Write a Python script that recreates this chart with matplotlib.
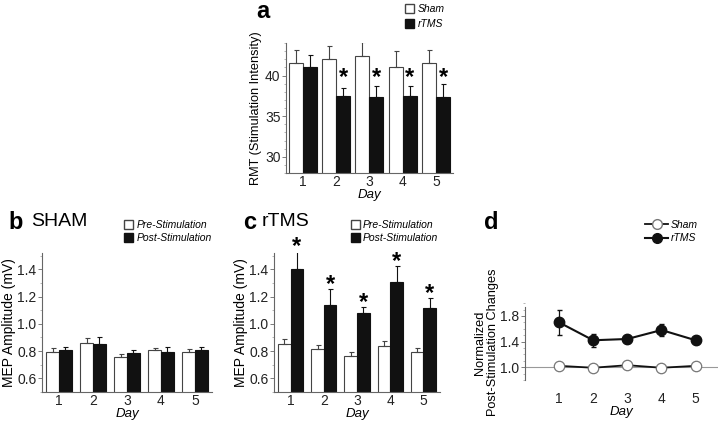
import matplotlib
matplotlib.use("Agg")
import matplotlib.pyplot as plt
from matplotlib.patches import Patch
from matplotlib.lines import Line2D
from matplotlib.ticker import MultipleLocator
import numpy as np

plt.rcParams['font.family'] = ['Liberation Sans', 'DejaVu Sans']

days = [1, 2, 3, 4, 5]

# a: resting motor threshold
rmt_sham = [41.5, 42.0, 42.4, 41.0, 41.5]
rmt_sham_err = [1.6, 1.6, 1.7, 2.0, 1.6]
rmt_rtms = [41.0, 37.5, 37.4, 37.5, 37.4]
rmt_rtms_err = [1.5, 1.0, 1.3, 1.2, 1.6]
rmt_sig = [False, True, True, True, True]

# b: MEP amplitude, sham group
sham_pre = [0.795, 0.858, 0.759, 0.807, 0.790]
sham_pre_err = [0.027, 0.040, 0.017, 0.019, 0.024]
sham_post = [0.807, 0.851, 0.785, 0.795, 0.810]
sham_post_err = [0.025, 0.054, 0.025, 0.035, 0.019]

# c: MEP amplitude, rTMS group
rtms_pre = [0.850, 0.812, 0.762, 0.836, 0.795]
rtms_pre_err = [0.036, 0.033, 0.028, 0.041, 0.031]
rtms_post = [1.40, 1.14, 1.08, 1.31, 1.115]
rtms_post_err = [0.135, 0.117, 0.041, 0.115, 0.072]
rtms_sig = [True, True, True, True, True]

# d: normalized post-stimulation changes
norm_sham = [1.02, 0.99, 1.03, 0.99, 1.02]
norm_rtms = [1.70, 1.42, 1.44, 1.58, 1.42]
norm_rtms_err = [0.20, 0.10, 0.06, 0.09, 0.06]

EDGE = '#444444'
DARK = '#111111'
SPINE = '#666666'


def style_axes(ax):
    for s in ['top', 'right']:
        ax.spines[s].set_visible(False)
    for s in ['left', 'bottom']:
        ax.spines[s].set_color(SPINE)
        ax.spines[s].set_linewidth(0.8)
    ax.tick_params(axis='x', length=0, labelsize=10, pad=1.5, colors='#222222')
    ax.tick_params(axis='y', which='major', length=3, width=0.6, color=SPINE,
                   labelsize=10, pad=1, labelcolor='#222222')
    ax.tick_params(axis='y', which='minor', length=1.5, width=0.5, color='#999999')


def bar_pair(ax, pre, pre_err, post, post_err, width=0.4):
    x = np.array(days)
    ax.bar(x - width / 2, pre, width, color='white', edgecolor=EDGE, linewidth=0.8)
    ax.bar(x + width / 2, post, width, color=DARK, edgecolor=DARK, linewidth=0.8)
    ax.errorbar(x - width / 2, pre, yerr=[np.zeros(5), pre_err], fmt='none',
                ecolor=EDGE, elinewidth=0.8, capsize=1.8, capthick=0.8)
    ax.errorbar(x + width / 2, post, yerr=[np.zeros(5), post_err], fmt='none',
                ecolor=DARK, elinewidth=0.8, capsize=1.8, capthick=0.8)
    ax.set_xticks(days)
    ax.set_xlim(0.5, 5.5)


fig = plt.figure(figsize=(7.2, 4.23), dpi=100)

# ---- a ----
ax = fig.add_axes([0.3972, 0.591, 0.2319, 0.3073])
bar_pair(ax, rmt_sham, rmt_sham_err, rmt_rtms, rmt_rtms_err, width=0.42)
ax.set_ylim(28, 44)
ax.set_yticks([30, 35, 40])
ax.yaxis.set_minor_locator(MultipleLocator(1))
style_axes(ax)
for d, sig in zip(days, rmt_sig):
    if sig:
        ax.text(d + 0.21, 39.8, '*', ha='center', va='center', fontsize=17, fontweight='bold')
ax.set_ylabel('RMT (Stimulation Intensity)', fontsize=9.2, labelpad=2)
ax.set_xlabel('Day', fontsize=9.5, style='italic', labelpad=0)
fig.text(0.356, 0.972, 'a', fontsize=17, fontweight='bold', va='center', ha='left')
fig.legend(handles=[Patch(facecolor='white', edgecolor=EDGE, label='Sham'),
                    Patch(facecolor=DARK, edgecolor=DARK, label='rTMS')],
           loc='upper left', bbox_to_anchor=(0.549, 1.012), frameon=False,
           handlelength=0.9, handleheight=0.9, handletextpad=0.35, labelspacing=0.45,
           prop={'size': 7.5, 'style': 'italic'})

# ---- b ----
ax = fig.add_axes([0.0583, 0.0733, 0.2361, 0.3286])
bar_pair(ax, sham_pre, sham_pre_err, sham_post, sham_post_err, width=0.38)
ax.set_ylim(0.5, 1.52)
ax.set_yticks([0.6, 0.8, 1.0, 1.2, 1.4])
ax.yaxis.set_minor_locator(MultipleLocator(0.1))
style_axes(ax)
ax.set_ylabel('MEP Amplitude (mV)', fontsize=10, labelpad=1)
ax.set_xlabel('Day', fontsize=9.5, style='italic', labelpad=0)
fig.text(0.012, 0.474, 'b', fontsize=17, fontweight='bold', va='center', ha='left')
fig.text(0.043, 0.476, 'SHAM', fontsize=14, va='center', ha='left')
fig.legend(handles=[Patch(facecolor='white', edgecolor=EDGE, label='Pre-Stimulation'),
                    Patch(facecolor=DARK, edgecolor=DARK, label='Post-Stimulation')],
           loc='upper left', bbox_to_anchor=(0.159, 0.502), frameon=False,
           handlelength=0.9, handleheight=0.9, handletextpad=0.3, labelspacing=0.3,
           prop={'size': 7.5, 'style': 'italic'})

# ---- c ----
ax = fig.add_axes([0.3806, 0.0733, 0.2306, 0.3286])
bar_pair(ax, rtms_pre, rtms_pre_err, rtms_post, rtms_post_err, width=0.38)
ax.set_ylim(0.5, 1.52)
ax.set_yticks([0.6, 0.8, 1.0, 1.2, 1.4])
ax.yaxis.set_minor_locator(MultipleLocator(0.1))
style_axes(ax)
for d, v, e, sig in zip(days, rtms_post, rtms_post_err, rtms_sig):
    if sig:
        ax.text(d + 0.19, v + e + 0.035, '*', ha='center', va='center', fontsize=17,
                fontweight='bold', clip_on=False)
ax.set_ylabel('MEP Amplitude (mV)', fontsize=10, labelpad=1)
ax.set_xlabel('Day', fontsize=9.5, style='italic', labelpad=0)
fig.text(0.338, 0.474, 'c', fontsize=17, fontweight='bold', va='center', ha='left')
fig.text(0.364, 0.476, 'rTMS', fontsize=14, va='center', ha='left')
fig.legend(handles=[Patch(facecolor='white', edgecolor=EDGE, label='Pre-Stimulation'),
                    Patch(facecolor=DARK, edgecolor=DARK, label='Post-Stimulation')],
           loc='upper left', bbox_to_anchor=(0.474, 0.502), frameon=False,
           handlelength=0.9, handleheight=0.9, handletextpad=0.3, labelspacing=0.3,
           prop={'size': 7.5, 'style': 'italic'})

# ---- d ----
ax = fig.add_axes([0.729, 0.0898, 0.268, 0.201])
ax.axhline(1.0, color='#999999', lw=0.8, zorder=1)
ax.plot(days, norm_sham, color=DARK, lw=1.3, marker='o', ms=7.5,
        mfc='white', mec='#777777', mew=0.9, zorder=3)
ax.errorbar(days, norm_rtms, yerr=norm_rtms_err, color=DARK, lw=1.5, marker='o', ms=7.5,
            mfc=DARK, mec=DARK, ecolor=DARK, elinewidth=0.9, capsize=1.8, zorder=4)
ax.set_xlim(0, 5.65)
ax.set_ylim(0.72, 2.05)
ax.set_xticks(days)
ax.set_yticks([1.0, 1.4, 1.8])
ax.yaxis.set_minor_locator(MultipleLocator(0.1))
style_axes(ax)
ax.spines['bottom'].set_visible(False)
ax.spines['left'].set_bounds(0.8, 1.94)
ax.tick_params(axis='x', pad=5)
ax.set_ylabel('Normalized\nPost-Stimulation Changes', fontsize=9.2, labelpad=1, linespacing=1.05)
ax.set_xlabel('Day', fontsize=9.5, style='italic', labelpad=0)
fig.text(0.672, 0.474, 'd', fontsize=17, fontweight='bold', va='center', ha='left')
fig.legend(handles=[Line2D([], [], color=DARK, lw=1.3, marker='o', ms=7, mfc='white',
                           mec='#777777', label='Sham'),
                    Line2D([], [], color=DARK, lw=1.5, marker='o', ms=7, mfc=DARK,
                           mec=DARK, label='rTMS')],
           loc='upper left', bbox_to_anchor=(0.883, 0.502), frameon=False,
           handlelength=2.2, handletextpad=0.3, labelspacing=0.3,
           prop={'size': 7.5, 'style': 'italic'})

fig.savefig('out.png', dpi=100)
